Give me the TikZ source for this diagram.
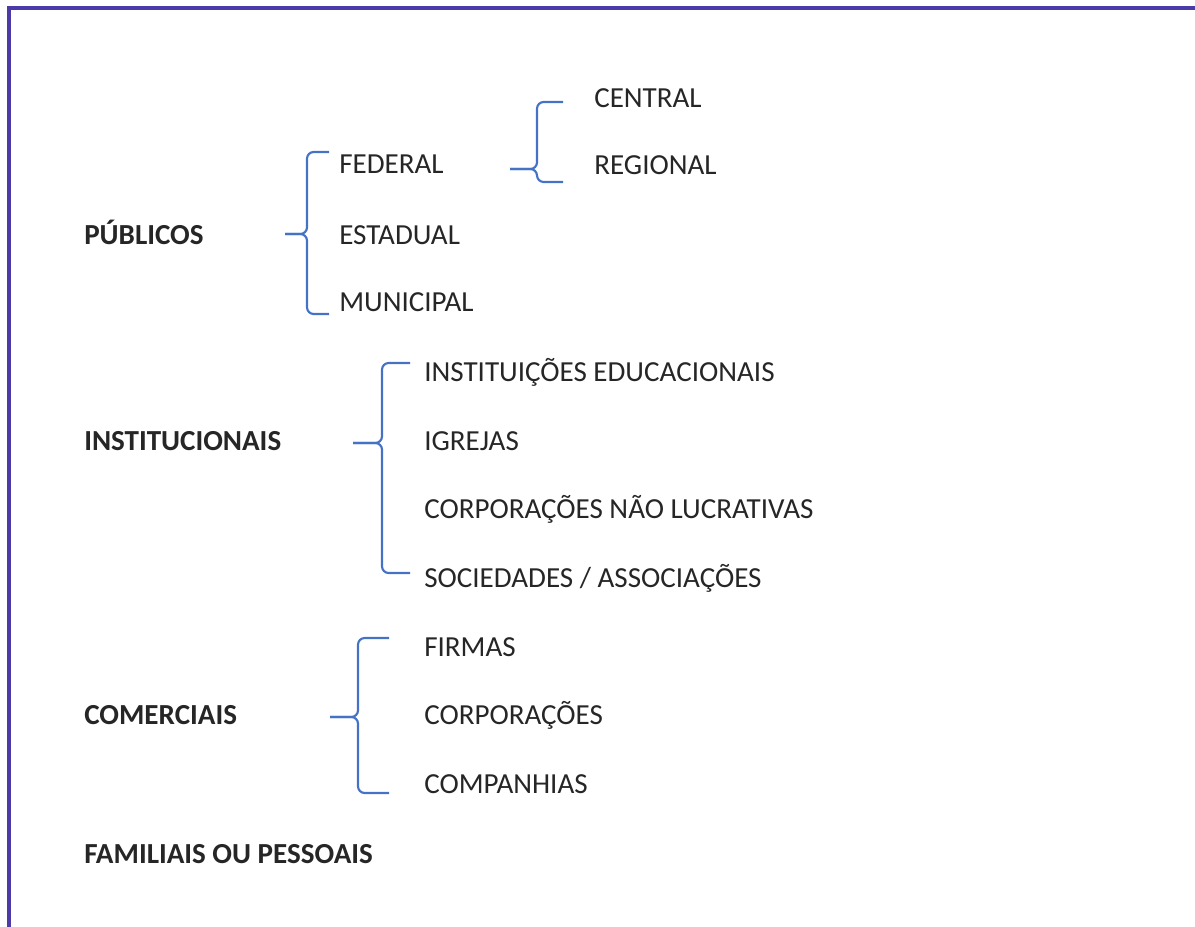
\documentclass[tikz,border=0pt]{standalone}
\usepackage{fontspec}
\setmainfont{Carlito}
\definecolor{moldura}{HTML}{4B3BA8}
\definecolor{azulchave}{HTML}{4472C4}
\definecolor{texto}{HTML}{262626}

\begin{document}
\begin{tikzpicture}[x=0.75pt,y=-0.75pt,
		item/.style={anchor=base west,inner sep=0pt,text=texto,font=\fontsize{21.8}{26}\selectfont},
		grupo/.style={item,font=\fontsize{21.8}{26}\selectfont\bfseries},
		chave/.style={draw=azulchave,line width=1.6pt,rounded corners=5pt}]
  		\useasboundingbox (0,0) rectangle (1195,927);
  		\draw[moldura,line width=2.8pt] (9,927) -- (9,8) -- (1195,8);

  		% grupos
  		\node[grupo] (publicos) at (84,244) {PÚBLICOS};
  		\node[grupo] (institucionais) at (84,450) {INSTITUCIONAIS};
  		\node[grupo] (comerciais) at (84,724) {COMERCIAIS};
  		\node[grupo] (familiais) at (84,863) {FAMILIAIS OU PESSOAIS};

  		% publicos
  		\node[item] (federal) at (339,174) {FEDERAL};
  		\node[item] (estadual) at (339,244) {ESTADUAL};
  		\node[item] (municipal) at (339,311) {MUNICIPAL};
  		\node[item] (central) at (594,108) {CENTRAL};
  		\node[item] (regional) at (594,175) {REGIONAL};

  		% institucionais
  		\node[item] (educacionais) at (424,381) {INSTITUIÇÕES EDUCACIONAIS};
  		\node[item] (igrejas) at (424,450) {IGREJAS};
  		\node[item] (naolucrativas) at (424,518) {CORPORAÇÕES NÃO LUCRATIVAS};
  		\node[item] (sociedades) at (424,587) {SOCIEDADES / ASSOCIAÇÕES};

  		% comerciais
  		\node[item] (firmas) at (424,656) {FIRMAS};
  		\node[item] (corporacoes) at (424,724) {CORPORAÇÕES};
  		\node[item] (companhias) at (424,793) {COMPANHIAS};

  		% chaves
  		\draw[chave] (329,152) -- (307,152) -- (307,234) -- (285,234);
  		\draw[chave] (285,234) -- (307,234) -- (307,314) -- (329,314);
  		\draw[chave] (563,102) -- (537,102) -- (537,169) -- (510,169);
  		\draw[chave] (510,169) -- (537,169) -- (537,182) -- (563,182);
  		\draw[chave] (410,363) -- (382,363) -- (382,443) -- (353,443);
  		\draw[chave] (353,443) -- (382,443) -- (382,573) -- (410,573);
  		\draw[chave] (389,638) -- (358,638) -- (358,717) -- (330,717);
  		\draw[chave] (330,717) -- (358,717) -- (358,793) -- (389,793);
\end{tikzpicture}
\end{document}
